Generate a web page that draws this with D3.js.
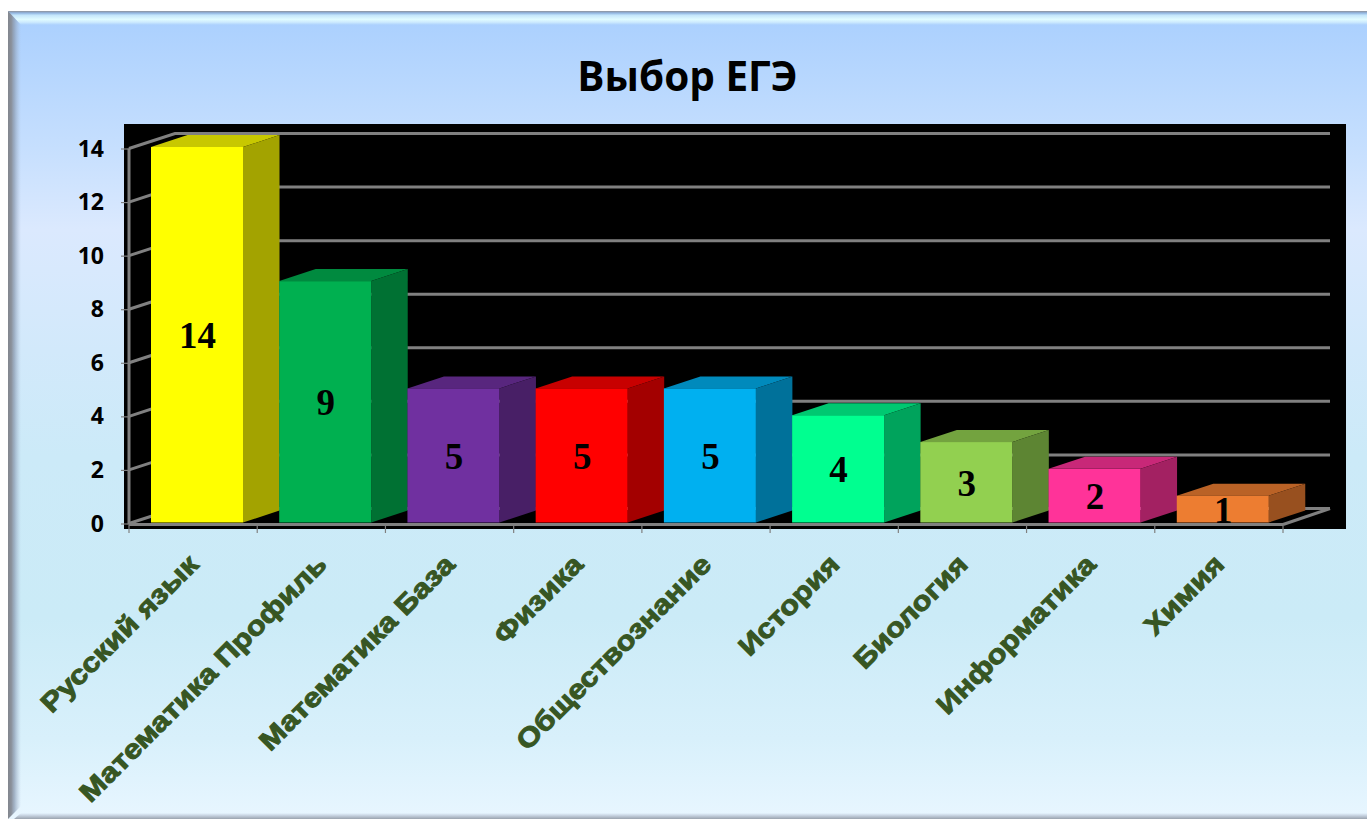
<!DOCTYPE html>
<html><head><meta charset="utf-8">
<style>html,body{margin:0;padding:0;background:#fff;overflow:hidden}svg{display:block}</style>
<script src="https://cdn.jsdelivr.net/npm/d3@7/dist/d3.min.js"></script>
</head><body><svg id="c" width="1367" height="819"></svg>
<script>
const titleText = "Выбор ЕГЭ";
const categories = ["Русский язык","Математика Профиль","Математика База","Физика","Обществознание","История","Биология","Информатика","Химия"];
const values = [14,9,5,5,5,4,3,2,1];
const yTicks = [0,2,4,6,8,10,12,14];
const barColors = ["#FFFF00","#00B050","#7030A0","#FF0000","#00B0F0","#00FF90","#92D050","#FF3399","#ED7D31"];

const W=1367,H=819;
const svg=d3.select("#c");
const defs=svg.append("defs");
function grad(id,x2,y2,stops){
  const g=defs.append("linearGradient").attr("id",id).attr("x1",0).attr("y1",0).attr("x2",x2).attr("y2",y2);
  stops.forEach(s=>g.append("stop").attr("offset",s[0]).attr("stop-color",s[1]).attr("stop-opacity",s[2]===undefined?1:s[2]));
}
grad("bg",0,1,[[0,"#a9cffe"],[0.17,"#c6dffe"],[0.27,"#dbe9fe"],[0.42,"#d2e9fb"],[0.55,"#cceaf8"],[0.75,"#cbebf7"],[0.9,"#d8f0fb"],[1,"#e8f6ff"]]);
grad("bt",0,1,[[0,"#8f9299"],[0.14,"#8fb4e0"],[0.3,"#c4e6fb"],[0.6,"#e0fbff"],[0.8,"#cdeafe"],[1,"#abd0fd"]]);
grad("bl",1,0,[[0,"#82868e"],[0.25,"#8a909a"],[0.5,"#8f9fb5",0.75],[1,"#a9bcd6",0]]);
grad("bb",0,1,[[0,"#e6f5ff"],[0.4,"#c8d4e2"],[1,"#9aa3ae"]]);

// panel
svg.append("rect").attr("x",8).attr("y",11).attr("width",W-8).attr("height",H-11).attr("fill","url(#bg)");
svg.append("polygon").attr("points",`8,11 ${W},11 ${W},25 21,25`).attr("fill","url(#bt)");
svg.append("polygon").attr("points",`8,11 21,25 21,806 8,819`).attr("fill","url(#bl)");
svg.append("polygon").attr("points",`14,819 ${W},819 ${W},813 21,813`).attr("fill","url(#bb)");

// title
svg.append("text").attr("x",687.5).attr("y",91).attr("text-anchor","middle")
  .attr("font-family","'Open Sans'").attr("font-weight",700).attr("font-size",40.5).attr("fill","#000").text(titleText);

// plot background
svg.append("rect").attr("x",124).attr("y",124).attr("width",1222).attr("height",405).attr("fill","#000");

const x=d3.scaleBand().domain(categories).range([129,1283]).paddingInner(0).paddingOuter(0);
const y=d3.scaleLinear().domain([0,14]).range([523.5,148.5]);
const barY=d3.scaleLinear().domain([0,14]).range([522.5,147]);
const wallDx=46,wallDy=-15,backEnd=1330;
const grey="#808080";

const grid=svg.append("g");
yTicks.forEach(t=>{
  const yy=y(t);
  grid.append("polyline").attr("points",`129,${yy} ${129+wallDx},${yy+wallDy} ${backEnd},${yy+wallDy}`)
    .attr("fill","none").attr("stroke",grey).attr("stroke-width",3);
});
grid.append("line").attr("x1",129).attr("x2",129).attr("y1",y(14)).attr("y2",y(0)+1).attr("stroke",grey).attr("stroke-width",3);
grid.append("line").attr("x1",129).attr("x2",1283).attr("y1",y(0)+1).attr("y2",y(0)+1).attr("stroke",grey).attr("stroke-width",3);
grid.append("line").attr("x1",1283).attr("x2",backEnd).attr("y1",y(0)+1).attr("y2",y(0)+wallDy).attr("stroke",grey).attr("stroke-width",3);

const yAxis=d3.axisLeft(y).tickValues(yTicks).tickSize(8).tickPadding(17);
const gy=svg.append("g").attr("transform","translate(129,0)").call(yAxis);
gy.select(".domain").remove();
gy.selectAll("line").attr("stroke",grey).attr("stroke-width",1.2);
gy.selectAll("text").attr("font-family","'Open Sans'").attr("font-weight",700).attr("font-size",23).attr("fill","#000").attr("dy","0.33em");

const tickPos=categories.map(c=>x(c)).concat([x.range()[1]]);
svg.append("g").selectAll("line").data(tickPos).join("line")
  .attr("x1",d=>d).attr("x2",d=>d).attr("y1",525).attr("y2",533).attr("stroke",grey).attr("stroke-width",1.2);

// bars
const barW=92,dx=36.5,dy=-12;
const barLeft=c=>x(c)+22;
const shade=(col,f)=>{const r=d3.rgb(col);return d3.rgb(r.r*f,r.g*f,r.b*f).formatHex();};
const bars=svg.append("g").selectAll("g").data(categories.map((c,i)=>({c,v:values[i],col:barColors[i]}))).join("g");
bars.append("polygon").attr("fill",d=>shade(d.col,0.785)).attr("points",d=>{
  const l=barLeft(d.c),t=barY(d.v);
  return `${l},${t} ${l+dx},${t+dy} ${l+barW+dx},${t+dy} ${l+barW},${t}`;});
bars.append("polygon").attr("fill",d=>shade(d.col,0.64)).attr("points",d=>{
  const l=barLeft(d.c),t=barY(d.v),b=barY(0);
  return `${l+barW},${t} ${l+barW+dx},${t+dy} ${l+barW+dx},${b+dy} ${l+barW},${b}`;});
bars.append("rect").attr("fill",d=>d.col).attr("x",d=>barLeft(d.c)).attr("y",d=>barY(d.v)).attr("width",barW).attr("height",d=>barY(0)-barY(d.v));
bars.append("text").attr("x",d=>barLeft(d.c)+barW/2+0.5).attr("y",d=>(barY(d.v)+barY(0))/2+13.5)
  .attr("text-anchor","middle").attr("font-family","'Liberation Serif'").attr("font-weight",700).attr("font-size",37).attr("fill","#000").text(d=>d.v);

// category labels
svg.append("g").selectAll("text").data(categories).join("text")
  .attr("transform",d=>`translate(${barLeft(d)+barW/2+3},${566}) rotate(-45) scale(1.15,1)`)
  .attr("text-anchor","end")
  .attr("font-family","'Liberation Sans'").attr("font-weight",700).attr("font-size",27).attr("fill","#375623")
  .attr("stroke","#375623").attr("stroke-width",1).text(d=>d);
</script></body></html>
